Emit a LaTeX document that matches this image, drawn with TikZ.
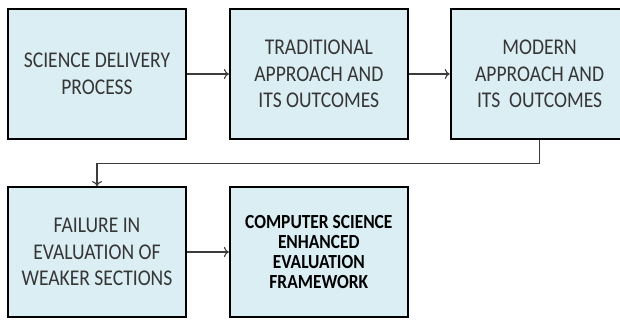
\documentclass[tikz,border=0pt]{standalone}
\usepackage{fontspec}
\setmainfont{Carlito}[FakeStretch=0.87]
\usetikzlibrary{positioning, arrows.meta}

\definecolor{boxfill}{HTML}{DAEEF3}
\definecolor{linegray}{HTML}{3C3C3C}
\definecolor{textgray}{HTML}{363636}

\begin{document}
\begin{tikzpicture}[x=1pt, y=1pt,
  block/.style={draw=black, line width=1.8pt, fill=boxfill,
    minimum width=178pt, minimum height=130pt, inner sep=2pt,
    align=center, text=textgray, font=\fontsize{22.5}{26.5}\selectfont},
  boldblock/.style={block, text=black, font=\bfseries\fontsize{20}{20}\selectfont},
  link/.style={draw=linegray, line width=1.1pt, -{To[length=5pt, width=10pt]}}]

\useasboundingbox (0,0) rectangle (620,320);
\clip (0,0) rectangle (620,320);

% top row
\node[block] (deliv) at (97,246) {SCIENCE DELIVERY\\PROCESS};
\node[block, right=42pt of deliv] (trad) {TRADITIONAL\\APPROACH AND\\ITS OUTCOMES};
\node[block, right=41pt of trad] (modern) {MODERN\\APPROACH AND\\ITS\ \ OUTCOMES};

% bottom row
\node[block] (fail) at (97,68) {FAILURE IN\\EVALUATION OF\\WEAKER SECTIONS};
\node[boldblock, right=42pt of fail] (frame) {COMPUTER SCIENCE\\ENHANCED\\EVALUATION\\FRAMEWORK};

% arrows
\draw[link] (deliv) -- (trad);
\draw[link] (trad) -- (modern);
\draw[link] (modern.south) -- ++(0,-24) -| (fail.north);
\draw[link] (fail) -- (frame);

\end{tikzpicture}
\end{document}
